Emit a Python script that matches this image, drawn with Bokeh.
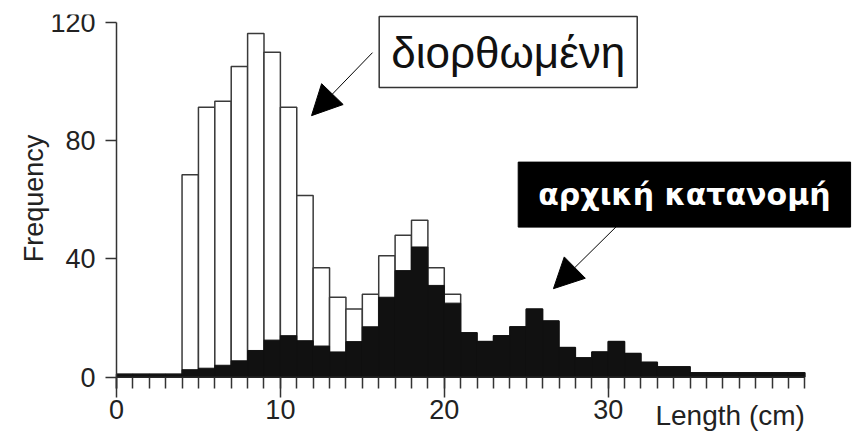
import math
from bokeh.plotting import figure
from bokeh.models import (Range1d, FixedTicker, Label, Arrow, NormalHead, ColumnDataSource)
from bokeh.embed import file_html
from bokeh.resources import INLINE

# ---- data ----
bin_left = list(range(0, 42))
original = [1, 1, 1, 1, 2.5, 3, 4, 5.5, 9, 12.5, 14, 12.3, 10.5, 8.5, 12, 17, 27, 36, 44, 31,
            25, 15, 12, 14, 17, 23, 19, 10, 6.5, 8.5, 12, 8, 5, 3.5, 3.5, 1.5, 1.5, 1.5, 1.5, 1.5, 1.5, 1.5]
corrected = [1, 1, 1, 1, 68.4, 91.2, 93.3, 105, 116.2, 109.8, 91.2, 61.4, 37, 27, 23, 28, 41, 48, 53, 37,
             28, 15, 12, 14, 17, 23, 19, 10, 6.5, 8.5, 12, 8, 5, 3.5, 3.5, 1.5, 1.5, 1.5, 1.5, 1.5, 1.5, 1.5]
x_ticks = [0, 10, 20, 30]
y_ticks = [0, 40, 80, 120]
label_corrected = "διορθωμένη"
label_original = "αρχική κατανομή"
x_title = "Length (cm)"
y_title = "Frequency"

bin_right = [b + 1 for b in bin_left]
x_min, x_max = min(bin_left), max(bin_right)
y_axis_floor = -3.7
y_axis_top = max(y_ticks)
src = ColumnDataSource(dict(left=bin_left, right=bin_right, orig=original, corr=corrected,
                            zero=[0] * len(bin_left)))

FONT = "Liberation Sans"

p = figure(width=855, height=435, output_backend="svg", toolbar_location=None,
           x_range=Range1d(-7.077, 45.09), y_range=Range1d(-19.75, 122.6),
           min_border_left=0, min_border_right=0, min_border_top=14, min_border_bottom=0)
p.outline_line_color = None
p.grid.visible = False
p.background_fill_color = "white"
p.border_fill_color = "white"

p.quad(left="left", right="right", bottom="zero", top="corr", source=src,
       fill_color="white", line_color="#3a3a3a", line_width=1.5)
p.quad(left="left", right="right", bottom="zero", top="orig", source=src,
       fill_color="#111111", line_color="#111111", line_width=1)

# baseline (x axis line at zero)
p.segment(x0=[x_min], x1=[x_max], y0=[0], y1=[0], line_color="#222222", line_width=1.5)

xa = p.xaxis[0]
xa.fixed_location = y_axis_floor
xa.ticker = FixedTicker(ticks=x_ticks, minor_ticks=list(range(x_min, x_max + 1)))
xa.bounds = (x_min, x_max)
xa.axis_line_color = None
xa.major_tick_in = 11
xa.major_tick_out = 9
xa.minor_tick_in = 11
xa.minor_tick_out = 0
xa.major_tick_line_color = "#333333"
xa.minor_tick_line_color = "#333333"
xa.major_tick_line_width = 1.5
xa.minor_tick_line_width = 1.5
xa.major_label_text_font = FONT
xa.major_label_text_font_size = "27px"
xa.major_label_text_color = "#222222"
xa.major_label_standoff = 3

ya = p.yaxis[0]
ya.fixed_location = x_min
ya.ticker = FixedTicker(ticks=y_ticks, minor_ticks=[])
ya.bounds = (y_axis_floor, y_axis_top)
ya.axis_line_color = "#333333"
ya.axis_line_width = 1.5
ya.major_tick_in = 0
ya.major_tick_out = 11
ya.major_tick_line_color = "#333333"
ya.major_tick_line_width = 1.5
ya.major_label_text_font = FONT
ya.major_label_text_font_size = "27px"
ya.major_label_text_color = "#222222"
ya.major_label_standoff = 10

p.add_layout(Label(x=-5.06, y=60.4, text=y_title, angle=math.pi / 2, text_align="center",
                   text_baseline="middle", text_font=FONT, text_font_size="27px", text_color="#222222"))
p.add_layout(Label(x=x_max, y=y_axis_floor, text=x_title, text_align="right", text_baseline="top",
                   y_offset=-12, text_font=FONT, text_font_size="28px", text_color="#222222"))

p.add_layout(Label(x=23.9, y=109.9, text=label_corrected, text_align="center", text_baseline="middle",
                   text_font=FONT, text_font_size="44px", text_color="#111111",
                   background_fill_color="white", border_line_color="#333333", border_line_width=1.5,
                   padding=(12, 11)))
p.add_layout(Label(x=34.65, y=61.7, text=label_original, text_align="center", text_baseline="middle",
                   text_font="DejaVu Sans", text_font_size="30px", text_font_style="bold",
                   text_color="white", background_fill_color="black", border_line_color="black",
                   padding=(20, 15)))

p.add_layout(Arrow(x_start=15.62, y_start=109.7, x_end=11.9, y_end=88.4, line_width=1, line_color="black",
                   end=NormalHead(size=30, fill_color="black", line_color="black")))
p.add_layout(Arrow(x_start=30.5, y_start=50.9, x_end=26.66, y_end=29.9, line_width=1, line_color="black",
                   end=NormalHead(size=30, fill_color="black", line_color="black")))

open("out.html", "w").write(file_html(p, INLINE))
